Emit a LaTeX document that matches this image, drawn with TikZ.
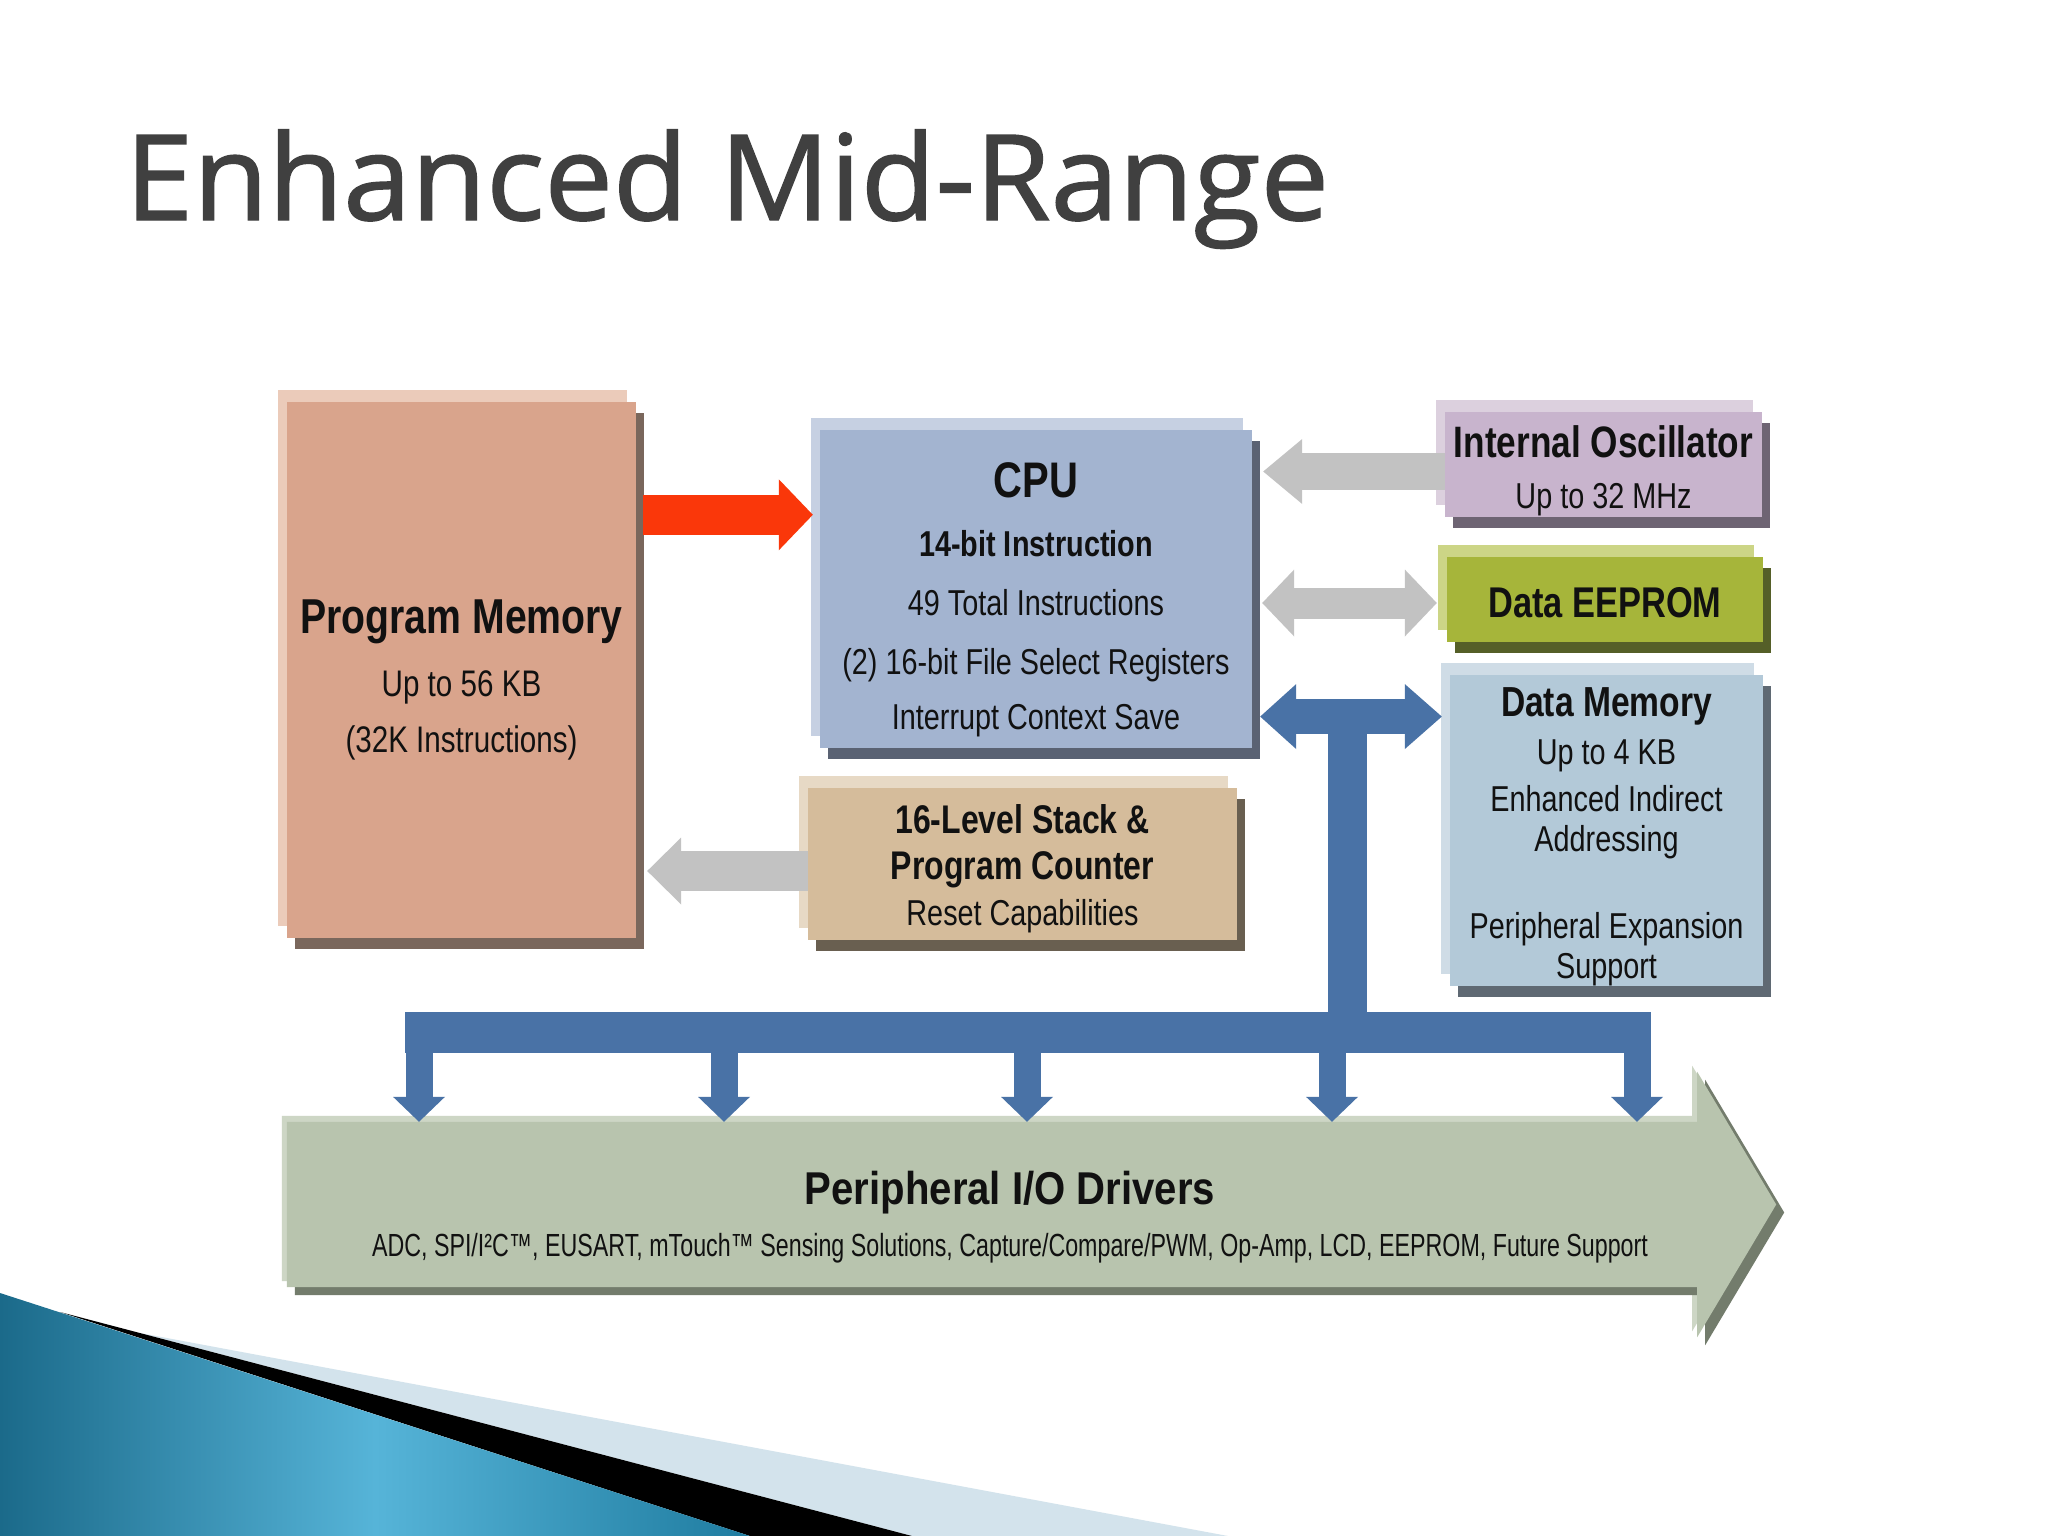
\documentclass[tikz,border=0pt]{standalone}
\usepackage{fontspec}
\usepackage{graphicx}
\usetikzlibrary{arrows.meta,calc}
\setmainfont{Liberation Sans}
\newfontfamily\nar[FakeStretch=0.8]{Liberation Sans}
\newfontfamily\titlefont[FakeBold=1.2]{Open Sans}
\newcommand\fsz[2]{\fontsize{#1}{#2}\selectfont}
\newcommand\pushdown[1]{\rule{0pt}{#1}}
\definecolor{txt}{HTML}{111111}
\definecolor{titlegray}{HTML}{404040}
\definecolor{pmF}{HTML}{D9A48C}\definecolor{pmB}{HTML}{EBCBBA}\definecolor{pmS}{HTML}{7A675C}
\definecolor{cpuF}{HTML}{A3B4D0}\definecolor{cpuB}{HTML}{C6D0E2}\definecolor{cpuS}{HTML}{5A6273}
\definecolor{oscF}{HTML}{C8B4CD}\definecolor{oscB}{HTML}{DCD0DE}\definecolor{oscS}{HTML}{6E6473}
\definecolor{eepF}{HTML}{A6B53A}\definecolor{eepB}{HTML}{CCD586}\definecolor{eepS}{HTML}{555F28}
\definecolor{dmF}{HTML}{B3C9D8}\definecolor{dmB}{HTML}{CFDCE6}\definecolor{dmS}{HTML}{5F6973}
\definecolor{stF}{HTML}{D5BC9B}\definecolor{stB}{HTML}{E7D9C5}\definecolor{stS}{HTML}{695F50}
\definecolor{perF}{HTML}{B8C4AE}\definecolor{perB}{HTML}{CDD6C5}\definecolor{perS}{HTML}{737C6C}
\definecolor{blueA}{HTML}{4972A6}
\definecolor{redA}{HTML}{FA370A}
\definecolor{greyA}{HTML}{C2C2C2}
\definecolor{swA}{HTML}{1B6A8A}\definecolor{swB}{HTML}{56B4D8}\definecolor{swC}{HTML}{1F7CA0}
\definecolor{swL}{HTML}{D3E3EC}
\pgfdeclarelayer{bg}
\pgfsetlayers{bg,main}
\tikzset{
  box/.style={rectangle, inner sep=0pt, align=center, text=txt},
  layered/.style n args={3}{
    preaction={fill=#2, transform canvas={xshift=-9pt, yshift=12pt}},
    preaction={fill=#3, transform canvas={xshift=8pt, yshift=-11pt}},
    fill=#1},
  redflow/.style={draw=redA, line width=40pt, -{Triangle[width=71pt,length=34pt,line width=0pt]}},
  greyflow/.style={draw=greyA, line width=40pt, -{Triangle[width=67pt,length=34pt,line width=0pt]}},
  oscflow/.style={draw=greyA, line width=37pt, -{Triangle[width=65pt,length=39pt,line width=0pt]}},
  eepflow/.style={draw=greyA, line width=31pt, {Triangle[width=67pt,length=32pt,line width=0pt]}-{Triangle[width=67pt,length=32pt,line width=0pt]}},
  memflow/.style={draw=blueA, line width=35pt, {Triangle[width=65pt,length=36pt,line width=0pt]}-{Triangle[width=65pt,length=37pt,line width=0pt]}},
  busline/.style={draw=blueA, line width=41pt},
  stemline/.style={draw=blueA, line width=39pt},
  dropline/.style={draw=blueA, line width=27pt, -{Triangle[width=52pt,length=25pt,line width=0pt]}},
}
\begin{document}
\begin{tikzpicture}[x=1pt,y=-1pt]
\useasboundingbox (0,0) rectangle (2048,1536);
\begin{pgfonlayer}{bg}
\fill[white] (0,0) rectangle (2048,1536);
\fill[swL] (140,1333) -- (1228,1536) -- (912,1536) -- cycle;
\fill[black] (60,1312) -- (912,1536) -- (750,1536) -- cycle;
\shade[left color=swA, right color=swC, middle color=swB] (0,1293) -- (750,1536) -- (0,1536) -- cycle;
\end{pgfonlayer}

\node[anchor=base west, inner sep=0pt, text=titlegray, font=\titlefont\fsz{119}{130}] (title) at (125,220) {\scalebox{1.027}[1]{Enhanced Mid-Range}};

\node[box, layered={pmF}{pmB}{pmS}, minimum width=349pt, minimum height=536pt, font=\nar\fsz{37}{56}] (pm) at (461.5,670)
 {\pushdown{53pt}{\bfseries\fsz{49}{56}Program Memory}\\[7pt] Up to 56 KB\\ (32K Instructions)};

\node[box, layered={cpuF}{cpuB}{cpuS}, minimum width=432pt, minimum height=318pt, font=\nar\fsz{36}{59}] (cpu) at (1036,589)
 {\pushdown{56pt}{\bfseries\fsz{50}{59}CPU}\\ {\bfseries 14-bit Instruction}\\ 49 Total Instructions\\ (2) 16-bit File Select Registers\\[-4pt] Interrupt Context Save};

\node[box, layered={oscF}{oscB}{oscS}, minimum width=317pt, minimum height=105pt, font=\nar\fsz{36}{51}] (osc) at (1603.5,464.5)
 {\pushdown{45pt}{\bfseries\fsz{44}{51}Internal Oscillator}\\ Up to 32 MHz};

\node[box, layered={eepF}{eepB}{eepS}, minimum width=316pt, minimum height=85pt, font=\nar\bfseries\fsz{43}{51}] (eep) at (1605,599.5)
 {\pushdown{36pt}Data EEPROM};

\node[box, layered={dmF}{dmB}{dmS}, minimum width=313pt, minimum height=305pt, font=\nar\fsz{36}{44}] (dmem) at (1606.5,830.5)
 {\pushdown{42pt}{\bfseries\fsz{42}{44}Data Memory}\\[4pt] Up to 4 KB\\[3pt] Enhanced Indirect\\[-4pt] Addressing\\[43pt] Peripheral Expansion\\[-4pt] Support};

\node[box, layered={stF}{stB}{stS}, minimum width=429pt, minimum height=152pt, font=\nar\fsz{36}{46}] (stack) at (1022.5,864)
 {\pushdown{39pt}{\bfseries\fsz{40}{46}16-Level Stack \&}\\ {\bfseries\fsz{40}{46}Program Counter}\\ Reset Capabilities};

\node[box, minimum width=1410pt, minimum height=165pt, font=\nar\fsz{32}{52}] (periph) at (992,1204.5)
 {\pushdown{59pt}\hspace*{36pt}\scalebox{1.09}[1]{\bfseries\fsz{46}{52}Peripheral I/O Drivers}\\ \hspace*{36pt}\scalebox{0.908}[1]{ADC, SPI/I²C™, EUSART, mTouch™ Sensing Solutions, Capture/Compare/PWM, Op-Amp, LCD, EEPROM, Future Support}};

\begin{pgfonlayer}{bg}
\fill[perB, transform canvas={xshift=-5pt, yshift=6pt}] (periph.north west) -- (periph.north east) -- ++(0,-50) -- ($(periph.east)+(79,0)$) -- ($(periph.south east)+(0,50)$) -- (periph.south east) -- (periph.south west) -- cycle;
\fill[perS, transform canvas={xshift=8pt, yshift=-8pt}] (periph.north west) -- (periph.north east) -- ++(0,-50) -- ($(periph.east)+(79,0)$) -- ($(periph.south east)+(0,50)$) -- (periph.south east) -- (periph.south west) -- cycle;
\fill[perF] (periph.north west) -- (periph.north east) -- ++(0,-50) -- ($(periph.east)+(79,0)$) -- ($(periph.south east)+(0,50)$) -- (periph.south east) -- (periph.south west) -- cycle;
\end{pgfonlayer}

% connectors
\draw[redflow] ($(pm.north east)+(7,113)$) -- ($(cpu.north west)+(-7,85)$);
\draw[greyflow] ($(stack.west)+(0,7)$) -- ($(pm.east |- stack.west)+(11,7)$);
\draw[oscflow] ($(osc.west)+(0,7)$) -- ($(cpu.east |- osc.west)+(11,7)$);
\draw[eepflow] ($(cpu.east |- eep.west)+(10,3.5)$) -- ($(eep.west)+(-10,3.5)$);
\draw[memflow] ($(cpu.east |- dmem.north)+(8,42)$) -- ($(dmem.north west)+(-8,42)$);

% bus
\coordinate (tj) at ($(cpu.east |- dmem.north)+(95.5,42)$);
\coordinate (busL) at (419,1032.5);
\coordinate (b2) at (724,1032.5);
\coordinate (b3) at (1027,1032.5);
\coordinate (b4) at (1332,1032.5);
\coordinate (busR) at (1637,1032.5);
\draw[stemline] (tj) -- (tj |- busL);
\draw[busline] ($(busL)+(-14,0)$) -- ($(busR)+(13.5,0)$);
\foreach \c in {busL,b2,b3,b4,busR}
  \draw[dropline] (\c) -- (\c |- periph.north);
\end{tikzpicture}
\end{document}
